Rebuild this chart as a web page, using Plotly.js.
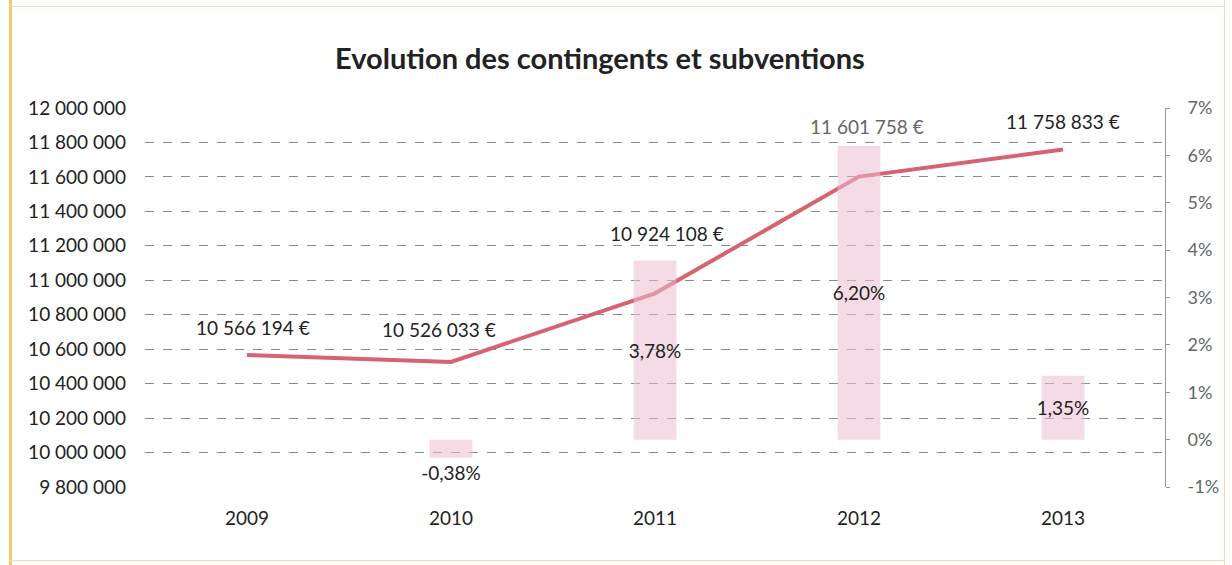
<!DOCTYPE html>
<html><head><meta charset="utf-8">
<script src="https://cdn.plot.ly/plotly-3.0.1.min.js"></script>
<style>
html,body{margin:0;padding:0;background:#fff;}
#wrap{position:relative;width:1232px;height:565px;}
#chart{width:1232px;height:565px;}
#frameL{position:absolute;left:9px;top:0;width:3px;height:565px;background:#f8c56e;}
#frameT{position:absolute;left:9px;top:6px;width:1215px;height:1px;background:#f3dcb0;}
#frameB{position:absolute;left:9px;top:560px;width:1215px;height:1px;background:#f3dcb0;}
#frameR{position:absolute;left:1224px;top:0;width:1px;height:565px;background:#f3dcb0;}
</style></head>
<body><div id="wrap"><div id="chart"></div><div id="frameL"></div><div id="frameT"></div><div id="frameB"></div><div id="frameR"></div></div>
<script>
const years = ['2009','2010','2011','2012','2013'];
const montants = [10566194, 10526033, 10924108, 11601758, 11758833];
const evolution = [null, -0.38, 3.78, 6.20, 1.35];
const leftTicks = [9800000,10000000,10200000,10400000,10600000,10800000,11000000,11200000,11400000,11600000,11800000,12000000];
const rightTicks = [-1,0,1,2,3,4,5,6,7];

function fmtEuro(v){ return String(v).replace(/\B(?=(\d{3})+(?!\d))/g,' ') + ' €'; }
function fmtPct(v){ return v.toFixed(2).replace('.',',') + '%'; }

const font = 'Lato, "Open Sans", sans-serif';

const bars = {
  type:'bar', x: years, y: evolution, yaxis:'y2',
  marker:{color:'rgba(236,190,208,0.55)', line:{width:0}},
  width:0.21,
  text: evolution.map(v => v===null ? '' : fmtPct(v)),
  textposition: evolution.map(v => v!==null && v<0 ? 'outside' : 'inside'),
  insidetextanchor:'middle',
  textangle:0,
  constraintext:'none',
  textfont:{family:font, size:19, color:'#222'},
  outsidetextfont:{family:font, size:19, color:'#222'},
  cliponaxis:false,
  hoverinfo:'skip', showlegend:false
};
const line = {
  type:'scatter', mode:'lines', x: years, y: montants,
  line:{color:'#d6636f', width:4},
  hoverinfo:'skip', showlegend:false
};

const labelShift = [28, 32, 60, 50, 28];
const labelXShift = [6, -12, 12, 8, 0];
const annotations = years.map((yr,i)=>({
  x: i, y: montants[i], xref:'x', yref:'y',
  text: fmtEuro(montants[i]), showarrow:false,
  yshift: labelShift[i], xshift: labelXShift[i],
  font:{family:font, size:19, color: i===3 ? '#666' : '#222'}
}));

const layout = {
  width:1232, height:565,
  margin:{l:145, r:67, t:108, b:78},
  paper_bgcolor:'#fff', plot_bgcolor:'#fff',
  separators:', ',
  title:{text:'<b>Evolution des contingents et subventions</b>', font:{family:font, size:29, color:'#222'}, x:0.487, xanchor:'center', y:0.895, yanchor:'middle'},
  xaxis:{type:'category', showgrid:false, zeroline:false, showline:false, ticks:'',
    tickfont:{family:font, size:19, color:'#222'}, ticklabelstandoff:18, range:[-0.5,4.5]},
  yaxis:{range:[9800000,12000000], tickvals:leftTicks, tickformat:',d',
    tickfont:{family:font, size:19, color:'#222'},
    showgrid:true, gridcolor:'#8a8a8a', griddash:'dash', gridwidth:1,
    zeroline:false, showline:false, ticks:'', ticklabelstandoff:18},
  yaxis2:{range:[-1,7], overlaying:'y', side:'right', tickvals:rightTicks,
    ticktext: rightTicks.map(v=>v+'%'),
    tickfont:{family:font, size:18, color:'#666'},
    showgrid:false, zeroline:false, showline:true, linecolor:'#9a9a9a', linewidth:1,
    ticks:'outside', ticklen:4, tickcolor:'#9a9a9a', ticklabelstandoff:14},
  bargap:0.8,
  annotations: annotations
};

Plotly.newPlot('chart', [bars, line], layout, {displayModeBar:false, staticPlot:true});
</script></body></html>
